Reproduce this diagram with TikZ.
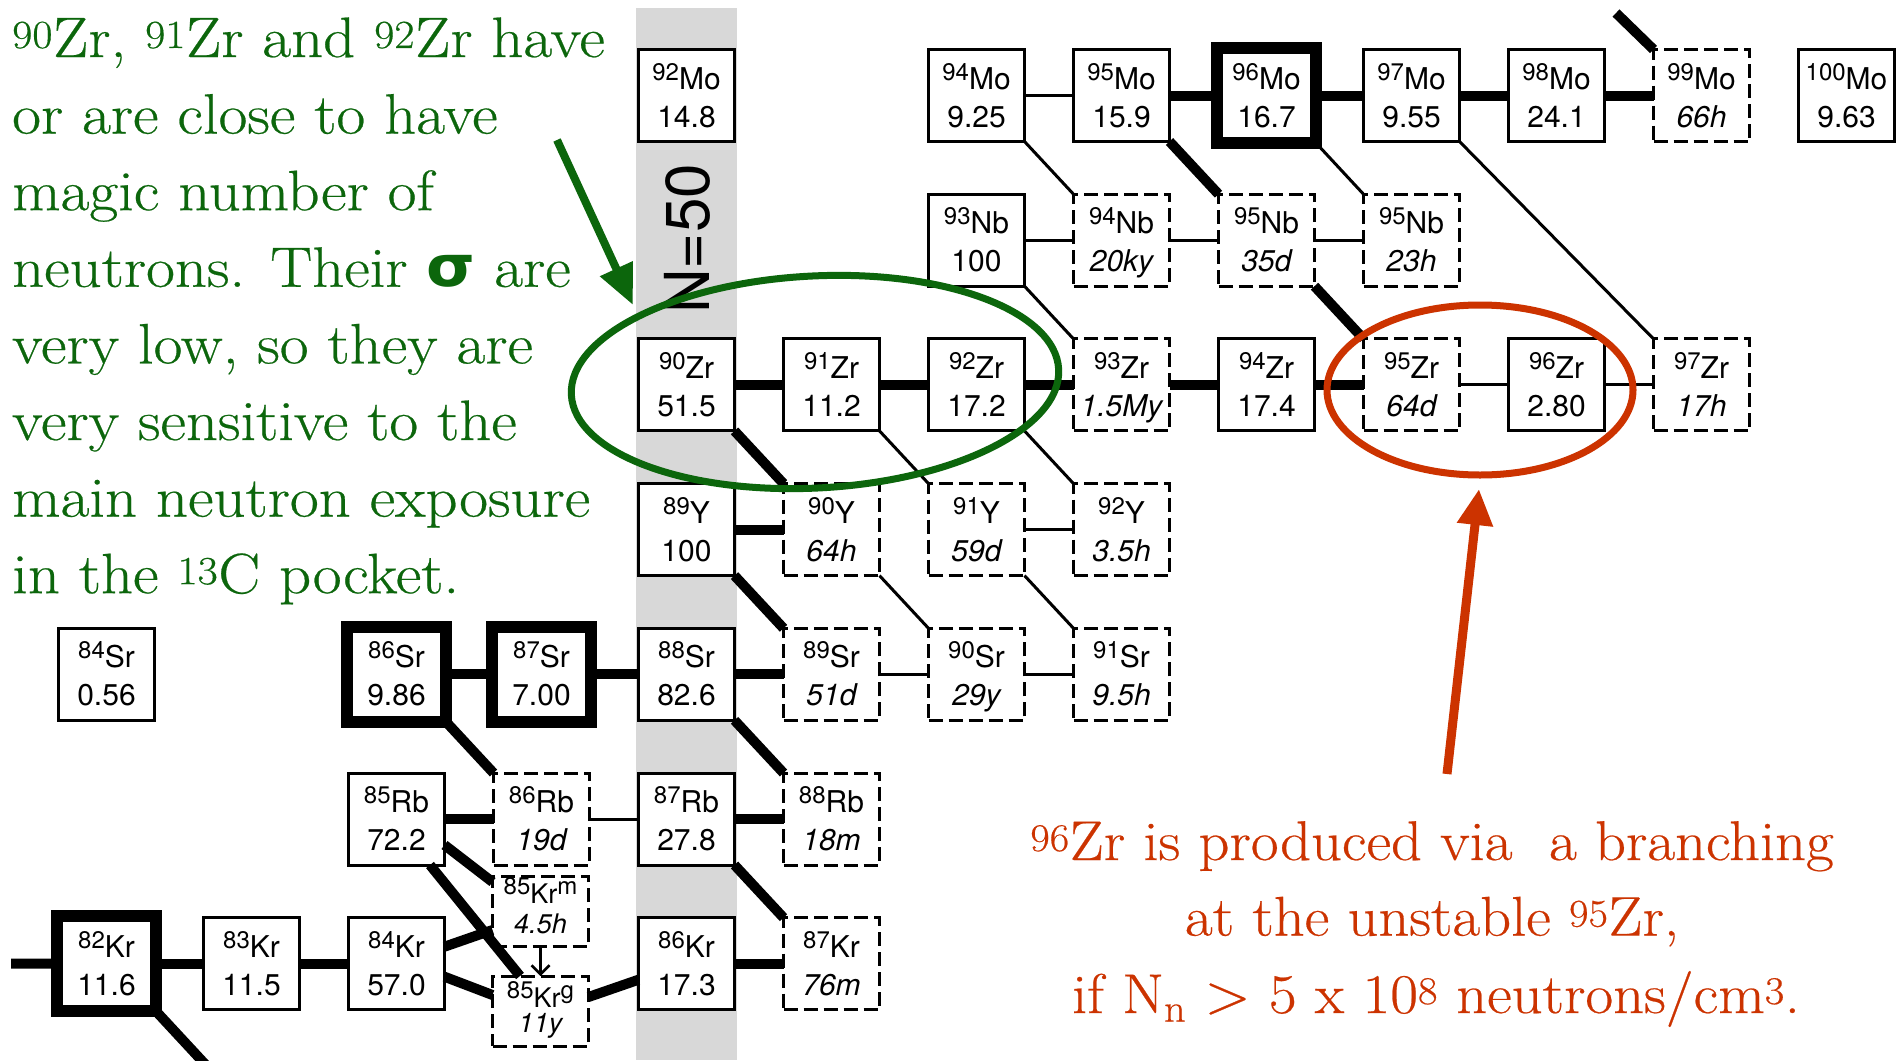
\documentclass[tikz,border=0pt]{standalone}
\usepackage{fontspec}
\usepackage{graphicx}
\usetikzlibrary{arrows.meta}
\newfontfamily\heros{TeX Gyre Heros}
\newfontfamily\sigfont{DejaVu Sans}
\newfontfamily\gara{Latin Modern Roman}[FakeBold=0.4]
\definecolor{tgreen}{RGB}{12,102,12}
\definecolor{tred}{RGB}{204,51,0}
\definecolor{band}{RGB}{216,216,216}
\tikzset{
 nbox/.style={draw, fill=white, line width=3pt, minimum width=96pt, minimum height=92pt, inner sep=0pt, outer sep=0pt},
 unst/.style={dash pattern=on 14pt off 6pt},
 heavy/.style={line width=12pt, minimum width=99pt, minimum height=95pt},
 ntxt/.style={inner sep=0pt, outer sep=0pt, font=\heros\fontsize{30}{30}\selectfont},
 stxt/.style={inner sep=0pt, outer sep=0pt, font=\heros\fontsize{27}{27}\selectfont},
 fl/.style={line width=10pt},
 wk/.style={line width=3pt},
 gtxt/.style={anchor=base west, inner sep=0pt, text=tgreen, font=\gara\fontsize{57}{64}\selectfont},
 rtxt/.style={anchor=base, inner sep=0pt, text=tred, font=\gara\fontsize{56}{64}\selectfont},
}
\newcommand\ms[1]{\raisebox{9pt}{\fontsize{24}{24}\selectfont #1}}
\newcommand\iso[7][]{%
 \node[nbox,#1] (#2) at ({106.5+145*#3},{95.5+144.7*#4}) {};
 \node[ntxt,anchor=base] (#2-a) at ([yshift=6.5pt]#2.center) {\ms{#5}#6};
 \node[ntxt,anchor=base] (#2-b) at ([yshift=-31.5pt]#2.center) {#7};}
\begin{document}
\begin{tikzpicture}[x=1pt,y=-1pt]
\useasboundingbox (0,0) rectangle (1903,1060);
\fill[white] (0,0) rectangle (1903,1060);
\fill[band] (636,8) rectangle (737,1060);
\node[font=\heros\fontsize{62}{62}\selectfont, rotate=90, inner sep=0pt] (n50) at (687.5,239) {N=50};
% Mo
\iso{Mo92}{4}{0}{92}{Mo}{14.8}
\iso{Mo94}{6}{0}{94}{Mo}{9.25}
\iso{Mo95}{7}{0}{95}{Mo}{15.9}
\iso[heavy]{Mo96}{8}{0}{96}{Mo}{16.7}
\iso{Mo97}{9}{0}{97}{Mo}{9.55}
\iso{Mo98}{10}{0}{98}{Mo}{24.1}
\iso[unst]{Mo99}{11}{0}{99}{Mo}{\itshape 66h}
\iso{Mo100}{12}{0}{100}{Mo}{9.63}
% Nb
\iso{Nb93}{6}{1}{93}{Nb}{100}
\iso[unst]{Nb94}{7}{1}{94}{Nb}{\itshape 20ky}
\iso[unst]{Nb95}{8}{1}{95}{Nb}{\itshape 35d}
\iso[unst]{Nb95b}{9}{1}{95}{Nb}{\itshape 23h}
% Zr
\iso{Zr90}{4}{2}{90}{Zr}{51.5}
\iso{Zr91}{5}{2}{91}{Zr}{11.2}
\iso{Zr92}{6}{2}{92}{Zr}{17.2}
\iso[unst]{Zr93}{7}{2}{93}{Zr}{\itshape 1.5My}
\iso{Zr94}{8}{2}{94}{Zr}{17.4}
\iso[unst]{Zr95}{9}{2}{95}{Zr}{\itshape 64d}
\iso{Zr96}{10}{2}{96}{Zr}{2.80}
\iso[unst]{Zr97}{11}{2}{97}{Zr}{\itshape 17h}
% Y
\iso{Y89}{4}{3}{89}{Y}{100}
\iso[unst]{Y90}{5}{3}{90}{Y}{\itshape 64h}
\iso[unst]{Y91}{6}{3}{91}{Y}{\itshape 59d}
\iso[unst]{Y92}{7}{3}{92}{Y}{\itshape 3.5h}
% Sr
\iso{Sr84}{0}{4}{84}{Sr}{0.56}
\iso[heavy]{Sr86}{2}{4}{86}{Sr}{9.86}
\iso[heavy]{Sr87}{3}{4}{87}{Sr}{7.00}
\iso{Sr88}{4}{4}{88}{Sr}{82.6}
\iso[unst]{Sr89}{5}{4}{89}{Sr}{\itshape 51d}
\iso[unst]{Sr90}{6}{4}{90}{Sr}{\itshape 29y}
\iso[unst]{Sr91}{7}{4}{91}{Sr}{\itshape 9.5h}
% Rb
\iso{Rb85}{2}{5}{85}{Rb}{72.2}
\iso[unst]{Rb86}{3}{5}{86}{Rb}{\itshape 19d}
\iso{Rb87}{4}{5}{87}{Rb}{27.8}
\iso[unst]{Rb88}{5}{5}{88}{Rb}{\itshape 18m}
% Kr
\iso[heavy]{Kr82}{0}{6}{82}{Kr}{11.6}
\iso{Kr83}{1}{6}{83}{Kr}{11.5}
\iso{Kr84}{2}{6}{84}{Kr}{57.0}
\iso{Kr86}{4}{6}{86}{Kr}{17.3}
\iso[unst]{Kr87}{5}{6}{87}{Kr}{\itshape 76m}
% 85Kr isomer and ground state
\node[nbox,unst,minimum height=70pt] (Krm) at (540.5,911) {};
\node[stxt,anchor=base] (Krm-a) at ([yshift=8pt]Krm.center) {\ms{85}Kr\ms{m}};
\node[stxt,anchor=base] (Krm-b) at ([yshift=-22pt]Krm.center) {\itshape 4.5h};
\node[nbox,unst,minimum height=70pt] (Krg) at (540.5,1011) {};
\node[stxt,anchor=base] (Krg-a) at ([yshift=4pt]Krg.center) {\ms{85}Kr\ms{g}};
\node[stxt,anchor=base] (Krg-b) at ([yshift=-21pt]Krg.center) {\itshape 11y};
\draw[line width=2.5pt, -{Straight Barb[length=9pt,width=18pt]}] (Krm.south) -- (Krg.north);
% free ends
\coordinate (kin) at (11,963.7);
\coordinate (krout) at (210.5,1070);
\coordinate (mo99in) at (1616,13);
% horizontal (n-capture)
\draw[wk] (Mo94.east) -- (Mo95.west);
\draw[fl] (Mo95.east) -- (Mo96.west);
\draw[fl] (Mo96.east) -- (Mo97.west);
\draw[fl] (Mo97.east) -- (Mo98.west);
\draw[fl] (Mo98.east) -- (Mo99.west);
\draw[wk] (Nb93.east) -- (Nb94.west);
\draw[wk] (Nb94.east) -- (Nb95.west);
\draw[wk] (Nb95.east) -- (Nb95b.west);
\draw[fl] (Zr90.east) -- (Zr91.west);
\draw[fl] (Zr91.east) -- (Zr92.west);
\draw[fl] (Zr92.east) -- (Zr93.west);
\draw[fl] (Zr93.east) -- (Zr94.west);
\draw[fl] (Zr94.east) -- (Zr95.west);
\draw[wk] (Zr95.east) -- (Zr96.west);
\draw[wk] (Zr96.east) -- (Zr97.west);
\draw[fl] (Y89.east) -- (Y90.west);
\draw[wk] (Y91.east) -- (Y92.west);
\draw[fl] (Sr86.east) -- (Sr87.west);
\draw[fl] (Sr87.east) -- (Sr88.west);
\draw[fl] (Sr88.east) -- (Sr89.west);
\draw[wk] (Sr89.east) -- (Sr90.west);
\draw[wk] (Sr90.east) -- (Sr91.west);
\draw[fl] (Rb85.east) -- (Rb86.west);
\draw[wk] (Rb86.east) -- (Rb87.west);
\draw[fl] (Rb87.east) -- (Rb88.west);
\draw[fl] (kin) -- (Kr82.west);
\draw[fl] (Kr82.east) -- (Kr83.west);
\draw[fl] (Kr83.east) -- (Kr84.west);
\draw[fl] (Kr86.east) -- (Kr87.west);
% 85Kr branching
\draw[fl] ([yshift=17pt]Kr84.east) -- ([yshift=-19pt]Krm.west);
\draw[fl] ([yshift=-13pt]Kr84.east) -- ([yshift=16pt]Krg.west);
\draw[fl] ([yshift=-26pt]Rb85.east) -- ([yshift=29pt]Krm.west);
\draw[fl] ([xshift=33.5pt]Rb85.south) -- ([xshift=-20.5pt]Krg.north);
\draw[fl] ([yshift=14pt]Krg.east) -- ([yshift=-16pt]Kr86.west);
% diagonals (beta decays)
\draw[fl] (mo99in) -- (Mo99.north west);
\draw[wk] (Mo94.south east) -- (Nb94.north west);
\draw[fl] (Mo95.south east) -- (Nb95.north west);
\draw[wk] (Mo96.south east) -- (Nb95b.north west);
\draw[wk] (Mo97.south east) -- (Zr97.north west);
\draw[wk] (Nb93.south east) -- (Zr93.north west);
\draw[fl] (Nb95.south east) -- (Zr95.north west);
\draw[fl] (Zr90.south east) -- (Y90.north west);
\draw[wk] (Zr91.south east) -- (Y91.north west);
\draw[wk] (Zr92.south east) -- (Y92.north west);
\draw[fl] (Y89.south east) -- (Sr89.north west);
\draw[wk] (Y90.south east) -- (Sr90.north west);
\draw[wk] (Y91.south east) -- (Sr91.north west);
\draw[fl] (Sr86.south east) -- (Rb86.north west);
\draw[fl] (Sr88.south east) -- (Rb88.north west);
\draw[fl] (Rb87.south east) -- (Kr87.north west);
\draw[fl] (Kr82.south east) -- (krout);
% highlights
\draw[tgreen, line width=7pt, rotate around={3:(815,382)}] (815,382) ellipse [x radius=244pt, y radius=106pt];
\draw[tred, line width=7pt] (1480,390) ellipse [x radius=153pt, y radius=85pt];
\coordinate (gaS) at (557,140);
\coordinate (gaE) at (633,305);
\draw[tgreen, line width=8pt, -{Triangle[length=40pt,width=34pt]}] (gaS) -- (gaE);
\coordinate (raS) at (1447,774);
\coordinate (raE) at (1479,489);
\draw[tred, line width=9pt, -{Triangle[length=36pt,width=34pt]}] (raS) -- (raE);
% texts
\node[gtxt] (g1) at (12,57) {\scalebox{1.1}[1]{\textsuperscript{90}Zr, \textsuperscript{91}Zr and \textsuperscript{92}Zr have}};
\node[gtxt] (g2) at (12,133.6) {\scalebox{1.1}[1]{or are close to have}};
\node[gtxt] (g3) at (12,210.2) {\scalebox{1.1}[1]{magic number of}};
\node[gtxt] (g4) at (12,286.8) {\scalebox{1.1}[1]{neutrons. Their {\sigfont\bfseries σ} are}};
\node[gtxt] (g5) at (12,363.4) {\scalebox{1.1}[1]{very low, so they are}};
\node[gtxt] (g6) at (12,440) {\scalebox{1.1}[1]{very sensitive to the}};
\node[gtxt] (g7) at (12,516.6) {\scalebox{1.1}[1]{main neutron exposure}};
\node[gtxt] (g8) at (12,593.2) {\scalebox{1.1}[1]{in the \textsuperscript{13}C pocket.}};
\node[rtxt] (r1) at (1432,860) {\scalebox{1.08}[1]{\textsuperscript{96}Zr is produced via\ \ a branching}};
\node[rtxt] (r2) at (1432,935.6) {\scalebox{1.08}[1]{at the unstable \textsuperscript{95}Zr,}};
\node[rtxt] (r3) at (1436,1013) {\scalebox{1.08}[1]{if N\textsubscript{n} > 5 x 10\textsuperscript{8} neutrons/cm\textsuperscript{3}.}};
\end{tikzpicture}
\end{document}
